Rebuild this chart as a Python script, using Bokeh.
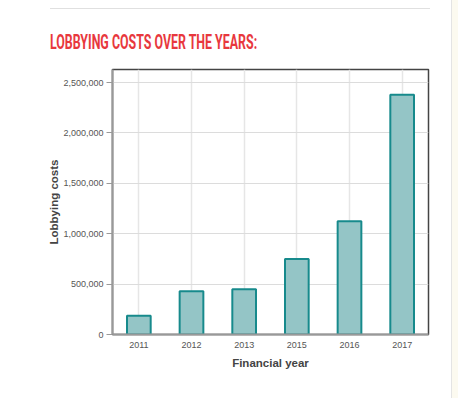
from bokeh.plotting import figure
from bokeh.models import ColumnDataSource, NumeralTickFormatter, Range1d, Div, FixedTicker
from bokeh.layouts import column
from bokeh.embed import file_html
from bokeh.resources import INLINE

years = ["2011", "2012", "2013", "2015", "2016", "2017"]
costs = [185000, 430000, 450000, 750000, 1125000, 2380000]
y_ticks = [0, 500000, 1000000, 1500000, 2000000, 2500000]

title_text = "LOBBYING COSTS OVER THE YEARS:"

src = ColumnDataSource(dict(year=years, cost=costs))

p = figure(x_range=years, y_range=Range1d(0, 2630000), width=442, height=330,
           output_backend="svg", toolbar_location=None,
           min_border_left=104, min_border_right=22, min_border_bottom=56, min_border_top=9)

p.vbar(x="year", top="cost", width=0.45, source=src,
       fill_color="#94c5c6", line_color="#178a8c", line_width=2)

p.outline_line_color = "#444444"
p.outline_line_width = 1.5
p.background_fill_color = "white"
p.border_fill_color = "white"

p.xgrid.grid_line_color = "#e6e6e6"
p.xgrid.grid_line_width = 1.5
p.ygrid.grid_line_color = "#dcdcdc"
p.ygrid.grid_line_width = 1.2

p.yaxis.ticker = FixedTicker(ticks=y_ticks)
p.yaxis.formatter = NumeralTickFormatter(format="0,0")
p.yaxis.minor_tick_line_color = None

for ax in (p.xaxis[0], p.yaxis[0]):
    ax.axis_line_color = "#999999"
    ax.axis_line_width = 2
    ax.major_label_text_font = "Liberation Sans"
    ax.major_label_text_font_size = "9px"
    ax.major_label_text_color = "#555555"
    ax.axis_label_text_font = "Liberation Sans"
    ax.axis_label_text_font_size = "11.5px"
    ax.axis_label_text_font_style = "bold"
    ax.axis_label_text_color = "#444444"

p.xaxis.major_tick_line_color = None
p.xaxis.major_tick_out = 0
p.xaxis.major_tick_in = 0
p.xaxis.major_label_standoff = 7
p.xaxis.axis_label_standoff = 6
p.yaxis.major_tick_line_color = "#999999"
p.yaxis.major_tick_in = 0
p.yaxis.major_tick_out = 6
p.yaxis.major_label_standoff = 3
p.yaxis.axis_label_standoff = 0
p.xaxis.axis_label = "Financial year"
p.yaxis.axis_label = "Lobbying costs"

header = Div(
    text=('<div style="position:absolute; top:0px; left:42px; width:380px; height:1px; '
          'background-color:#e0e0e0;"></div>'
          '<div style="position:absolute; top:24px; left:42px; white-space:nowrap; '
          'font-family: Roboto; font-weight: 700; font-size: 21px; line-height: 1; '
          'color: #e8383d; transform: scaleX(0.59); transform-origin: left top;">'
          + title_text + '</div>'
          '<div style="position:fixed; top:0px; right:0px; width:7px; height:100%; '
          'background-color:#fcfaf0; border-left:1px solid #e4e4e4;"></div>'),
    width=442, height=52, margin=0, styles={"position": "relative"})

layout = column(header, p, spacing=0)
layout.styles = {"margin-left": "8px", "margin-top": "8px"}

open("out.html", "w").write(file_html(layout, INLINE))
